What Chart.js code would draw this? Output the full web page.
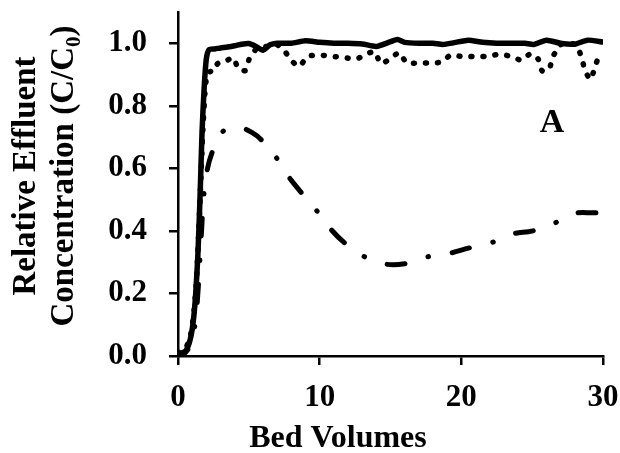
<!DOCTYPE html>
<html>
<head>
<meta charset="utf-8">
<script src="https://cdn.jsdelivr.net/npm/chart.js@4/dist/chart.umd.min.js"></script>
<style>
  body { margin: 0; background: #fff; }
</style>
</head>
<body>
<canvas id="breakthrough-chart" width="620" height="453"></canvas>
<script>

// Data (bed volumes vs C/C0)

const solidX = [0, 0.3, 0.6, 0.9, 1.1, 1.25, 1.4, 1.55, 1.7, 1.85, 2.0, 2.2, 2.6, 3.0, 3.5, 4.0, 4.5, 5.0, 5.5, 6.0, 6.5, 7.0, 8, 9, 10, 11, 12, 13, 14, 15, 15.5, 16, 17, 18, 18.7, 19.5, 20.5, 21.5, 22.5, 23.5, 24.5, 25.1, 26, 27, 28, 28.9, 30];
const solidY = [0.01, 0.01, 0.02, 0.06, 0.12, 0.2, 0.32, 0.5, 0.72, 0.86, 0.95, 0.98, 0.982, 0.985, 0.988, 0.992, 0.997, 0.999, 0.99, 0.978, 0.995, 1.0, 1.0, 1.008, 1.003, 1.0, 1.0, 0.998, 0.99, 1.005, 1.012, 1.003, 1.0, 1.0, 0.996, 1.002, 1.01, 1.003, 1.0, 1.0, 1.0, 0.996, 1.01, 1.0, 0.997, 1.01, 1.004];

const dottedX = [0, 0.3, 0.6, 0.9, 1.1, 1.3, 1.45, 1.6, 1.75, 1.9, 2.05, 2.3, 2.5, 2.8, 3.25, 3.9, 4.26, 4.77, 5.03, 5.6, 6.3, 7.0, 7.48, 8.02, 8.56, 9.15, 10.0, 10.9, 11.74, 12.6, 13.36, 13.9, 14.3, 14.84, 15.62, 16.14, 16.96, 17.83, 18.6, 19.25, 20.1, 20.96, 21.8, 22.7, 23.5, 24.26, 24.9, 25.43, 25.7, 26.2, 26.43, 27.0, 27.6, 28.1, 28.5, 28.7, 29.1, 29.4, 29.7, 30];
const dottedY = [0.01, 0.02, 0.03, 0.07, 0.13, 0.24, 0.38, 0.55, 0.72, 0.84, 0.9, 0.91, 0.909, 0.935, 0.94, 0.954, 0.918, 0.913, 0.95, 0.985, 0.99, 0.995, 0.978, 0.944, 0.926, 0.958, 0.962, 0.958, 0.954, 0.95, 0.967, 0.973, 0.935, 0.946, 0.97, 0.937, 0.937, 0.937, 0.94, 0.962, 0.957, 0.958, 0.958, 0.965, 0.958, 0.946, 0.967, 0.949, 0.912, 0.917, 0.954, 0.995, 1.0, 0.995, 0.954, 0.917, 0.884, 0.918, 0.957, 0.96];

const dashDotX = [0, 0.5, 0.9, 1.2, 1.4, 1.6, 1.8, 2.0, 2.4, 3.1, 4.0, 4.5, 5.2, 5.8, 6.85, 7.7, 8.75, 9.7, 10.7, 11.8, 13.05, 14.5, 16, 17.6, 19.05, 20.6, 22.1, 23.6, 25.05, 26.5, 27.9, 29.5, 30];
const dashDotY = [0.0, 0.01, 0.04, 0.1, 0.2, 0.35, 0.5, 0.58, 0.65, 0.715, 0.73, 0.73, 0.715, 0.695, 0.64, 0.58, 0.52, 0.47, 0.41, 0.36, 0.32, 0.295, 0.295, 0.317, 0.327, 0.346, 0.362, 0.39, 0.40, 0.423, 0.455, 0.458, 0.46];

const xTickStep = 10;
const yTickStep = 0.2;

const serif = '"Liberation Serif", "Times New Roman", serif';

function toPoints(xs, ys){
    return xs.map((x, i) => ({x: x, y: ys[i]}));
}

// Axis titles and panel letter drawn by hand (subscript, off-centre placement)

const titlesPlugin = {
    id: 'titles',
    afterDraw: (chart)=>{
        const ctx = chart.ctx;
        ctx.save();
        ctx.fillStyle = '#000';
        ctx.font = 'bold 32px ' + serif;
        ctx.textBaseline = 'alphabetic';

        // x title
        ctx.textAlign = 'center';
        ctx.fillText('Bed Volumes', 338, 447);

        // panel letter
        ctx.font = 'bold 34px ' + serif;
        ctx.fillText('A', 552, 132);

        // y title, two lines rotated
        ctx.font = 'bold 33px ' + serif;
        ctx.translate(35, 176);
        ctx.rotate(-Math.PI / 2);
        ctx.textAlign = 'center';
        ctx.fillText('Relative Effluent', 0, 0);

        ctx.textAlign = 'left';
        const partA = 'Concentration (C/C';
        const partC = ')';
        const wA = ctx.measureText(partA).width;
        const wC = ctx.measureText(partC).width;
        ctx.font = 'bold 21px ' + serif;
        const wB = ctx.measureText('0').width;
        let start = -(wA + wB + wC) / 2;
        ctx.font = 'bold 33px ' + serif;
        ctx.fillText(partA, start, 38);
        ctx.font = 'bold 21px ' + serif;
        ctx.fillText('0', start + wA, 45);
        ctx.font = 'bold 33px ' + serif;
        ctx.fillText(partC, start + wA + wB, 38);
        ctx.restore();
    }
};

const chartCanvas = document.getElementById('breakthrough-chart');

let breakthroughChart = new Chart(chartCanvas, {
    type: 'line',
    data: {
        datasets: [{
            data: toPoints(solidX, solidY),
            borderColor: '#000',
            borderWidth: 5.5,
            pointRadius: 0,
            tension: 0.2,
            borderCapStyle: 'round',
            borderJoinStyle: 'round'
        }, {
            data: toPoints(dottedX, dottedY),
            borderColor: '#000',
            borderWidth: 5.5,
            borderDash: [1, 11],
            borderCapStyle: 'round',
            pointRadius: 0,
            tension: 0.2
        }, {
            data: toPoints(dashDotX, dashDotY),
            borderColor: '#000',
            borderWidth: 5,
            borderDash: [18, 24, 0.5, 24],
            borderDashOffset: 6,
            borderCapStyle: 'round',
            pointRadius: 0,
            tension: 0.4
        }]
    },
    options: {
        responsive: false,
        animation: false,
        layout: {
            padding: {top: 12, right: 17, left: 0, bottom: 0}
        },
        scales: {
            x: {
                type: 'linear',
                min: 0,
                max: 30,
                afterFit: (scale)=>{
                    scale.height = 97;
                    scale.paddingLeft = 0;
                    scale.paddingRight = 0;
                },
                border: {color: '#000', width: 2.5},
                grid: {drawOnChartArea: false, drawTicks: true, tickLength: 9, color: '#000', lineWidth: 2.5},
                ticks: {
                    stepSize: xTickStep,
                    padding: 14,
                    color: '#000',
                    font: {family: serif, size: 31, weight: 'bold'}
                }
            },
            y: {
                min: 0,
                max: 1.1,
                afterFit: (scale)=>{
                    scale.width = 178;
                    scale.paddingTop = 0;
                    scale.paddingBottom = 0;
                },
                border: {color: '#000', width: 2.5},
                grid: {drawOnChartArea: false, drawTicks: true, tickLength: 9, color: '#000', lineWidth: 2.5},
                ticks: {
                    stepSize: yTickStep,
                    includeBounds: false,
                    padding: 22,
                    color: '#000',
                    font: {family: serif, size: 31, weight: 'bold'},
                    callback: (v)=> v.toFixed(1)
                }
            }
        },
        plugins: {
            legend: {display: false},
            tooltip: {enabled: false}
        }
    },
    plugins: [titlesPlugin]
});
</script>
</body>
</html>
